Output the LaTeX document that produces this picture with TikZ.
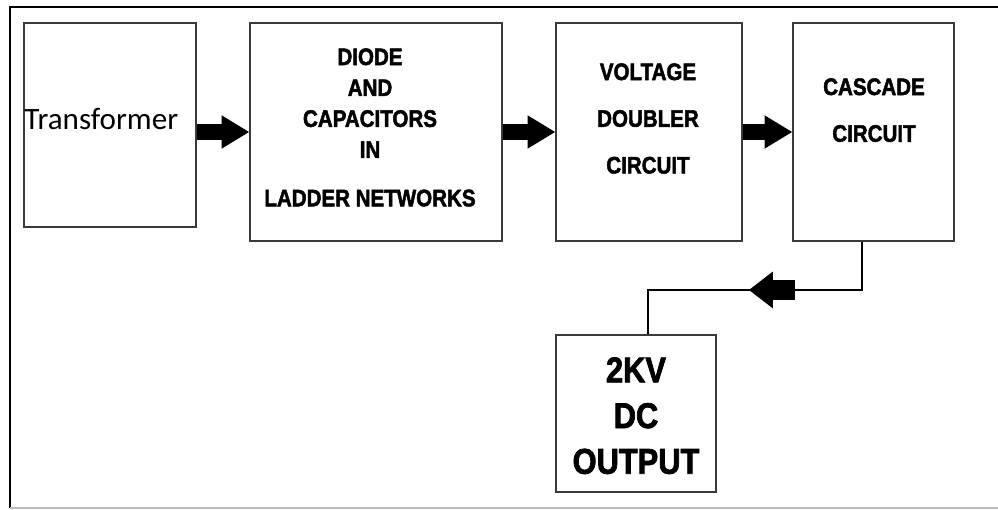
\documentclass[tikz,border=0pt]{standalone}
\usepackage{fontspec}
\usetikzlibrary{arrows.meta, calc}
\newfontfamily\blockfont[BoldFeatures={FakeStretch=0.86, FakeBold=2}]{Liberation Sans}
\newfontfamily\labelfont{Carlito}
\definecolor{boxgray}{HTML}{3A3A3A}
\definecolor{framegray}{HTML}{BBBBBB}
% one block of the chain: name, centre x, centre y, width, height (pixels)
\newcommand{\blockbox}[5]{%
  \node[blk, minimum width=#4*0.02cm, minimum height=#5*0.02cm] (#1) at (#2,#3) {};}

\begin{document}
\begin{tikzpicture}[x=0.02cm, y=-0.02cm,
    blk/.style={draw=boxgray, line width=1.1pt, inner sep=0pt},
    caps/.style={font=\blockfont\bfseries\fontsize{13.6}{17.6}\selectfont,
                 align=center, inner sep=0pt, anchor=north},
    fatarrow/.style={line width=9.6pt,
                     -{Triangle[length=15.6pt, width=19pt, line width=0pt]}},
    backarrow/.style={line width=11.9pt,
                      -{Triangle[length=13.6pt, width=21pt, line width=0pt]}},
    wire/.style={line width=0.8pt}]
  \useasboundingbox (0,0) rectangle (998,510);
  \draw[line width=1.1pt] (998,7) -- (10,7) -- (10,508);
  \draw[framegray, line width=0.8pt] (10,508) -- (998,508);

  \blockbox{tr}{110}{125}{172}{204}
  \blockbox{dio}{376}{132}{252}{218}
  \blockbox{vd}{649}{132}{186}{218}
  \blockbox{cas}{873.5}{132}{161}{218}
  \blockbox{out}{636}{413.5}{160}{157}

  \node[font=\labelfont\fontsize{17.7}{20}\selectfont, anchor=base west,
        inner sep=0pt] (tr-txt) at (24,130) {Transformer};
  \node[caps] (dio-txt) at (370,48)
       {DIODE\\AND\\CAPACITORS\\IN\\[10pt]LADDER NETWORKS};
  \node[caps] (vd-txt) at (648,63) {VOLTAGE\\[9pt]DOUBLER\\[9pt]CIRCUIT};
  \node[caps] (cas-txt) at (874,78) {CASCADE\\[9pt]CIRCUIT};
  \node[caps, font=\blockfont\bfseries\fontsize{20.4}{26}\selectfont]
       (out-txt) at (636,357) {2KV\\DC\\OUTPUT};

  \draw[fatarrow] (tr.east |- dio.west) -- (dio.west);
  \draw[fatarrow] (dio.east) -- (vd.west);
  \draw[fatarrow] (vd.east) -- (cas.west);

  % return path down to the output block
  \coordinate (tap) at ($(cas.south)+(-11.5,0)$);
  \coordinate (drop) at ($(out.north)+(12,0)$);
  \draw[wire] (tap) -- ++(0,48) coordinate (bend) -| (drop);
  \path (bend) ++(-67,0) coordinate (back) ++(-46,0) coordinate (tip);
  \draw[backarrow] (back) -- (tip);
\end{tikzpicture}
\end{document}
